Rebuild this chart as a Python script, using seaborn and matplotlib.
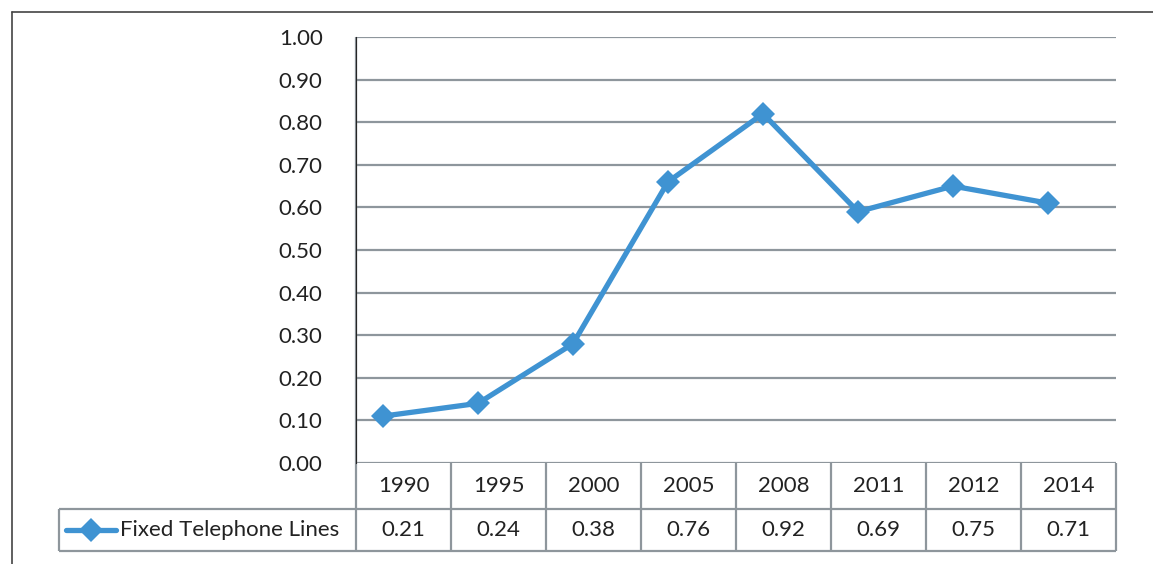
import matplotlib.pyplot as plt
import matplotlib.lines as mlines
import numpy as np
import seaborn as sns

BLUE = "#3F93D2"
GRID = "#8E969C"

years = ["1990", "1995", "2000", "2005", "2008", "2011", "2012", "2014"]
plotted = [0.11, 0.14, 0.28, 0.66, 0.82, 0.59, 0.65, 0.61]
table_vals = ["0.21", "0.24", "0.38", "0.76", "0.92", "0.69", "0.75", "0.71"]
series_name = "Fixed Telephone Lines"
yticks = np.arange(0, 1.01, 0.1)

sns.set_style("white")
plt.rcParams['font.family'] = ['Lato', 'DejaVu Sans']
plt.rcParams['font.size'] = 16

fig = plt.figure(figsize=(11.53, 5.64), dpi=100)
W, H = 1153, 564
ax = fig.add_axes([356 / W, 1 - 463 / H, (1116 - 356) / W, 426 / H])

# the points sit a little left of the table column centres, as in the original
x0 = -27 / 95
n = len(years)

pos = np.arange(n)
sns.lineplot(x=pos, y=plotted, ax=ax, color=BLUE, linewidth=3.8,
             marker="D", markersize=12.5, markeredgewidth=0, zorder=5)

ax.set_xlim(x0, x0 + n)
ax.set_ylim(0, 1)
ax.set_yticks(yticks)
ax.set_yticklabels([f"{v:.2f}" for v in yticks], color="#222222")
ax.tick_params(axis="y", length=0, pad=24)
ax.set_xticks([])
for v in yticks:
    ax.axhline(v, color=GRID, lw=1.6, zorder=1)
for s in ["top", "right", "bottom"]:
    ax.spines[s].set_visible(False)

# data table below the axes
tr = ax.get_xaxis_transform()
row1 = -46 / 426
row2 = -88 / 426
left_cell = x0 - 297 / 95
right_edge = x0 + n
kw = dict(color=GRID, lw=1.6, transform=tr, clip_on=False, solid_capstyle="butt")
ax.plot([x0, x0], [1, row2], **kw)
for k in range(1, n + 1):
    ax.plot([x0 + k, x0 + k], [0, row2], **kw)
ax.plot([left_cell, left_cell], [row1, row2], **kw)
ax.plot([left_cell, right_edge], [row1, row1], **kw)
ax.plot([left_cell, right_edge], [row2, row2], **kw)

for i, (yr, val) in enumerate(zip(years, table_vals)):
    xc = x0 + i + 0.5
    ax.text(xc, row1 / 2, yr, transform=tr, ha="center", va="center",
            fontsize=16, color="#222222")
    ax.text(xc, (row1 + row2) / 2, val, transform=tr, ha="center", va="center",
            fontsize=16, color="#222222")

# legend key in the table
ymid = (row1 + row2) / 2
ax.plot([left_cell + 0.07, left_cell + 0.6], [ymid, ymid], color=BLUE, lw=3.8,
        transform=tr, clip_on=False, solid_capstyle="round")
ax.plot([left_cell + 0.335], [ymid], marker="D", color=BLUE, markersize=12.5,
        markeredgewidth=0, transform=tr, clip_on=False)
ax.text(left_cell + 0.64, ymid, series_name, transform=tr, ha="left",
        va="center", fontsize=16, color="#222222")

# outer chart frame (left and top edges)
fig.add_artist(mlines.Line2D([12 / W, 12 / W], [0, 1 - 12 / H], color="#444444", lw=1.2))
fig.add_artist(mlines.Line2D([12 / W, 1], [1 - 12 / H, 1 - 12 / H], color="#444444", lw=1.2))

fig.savefig("out.png", dpi=100)
